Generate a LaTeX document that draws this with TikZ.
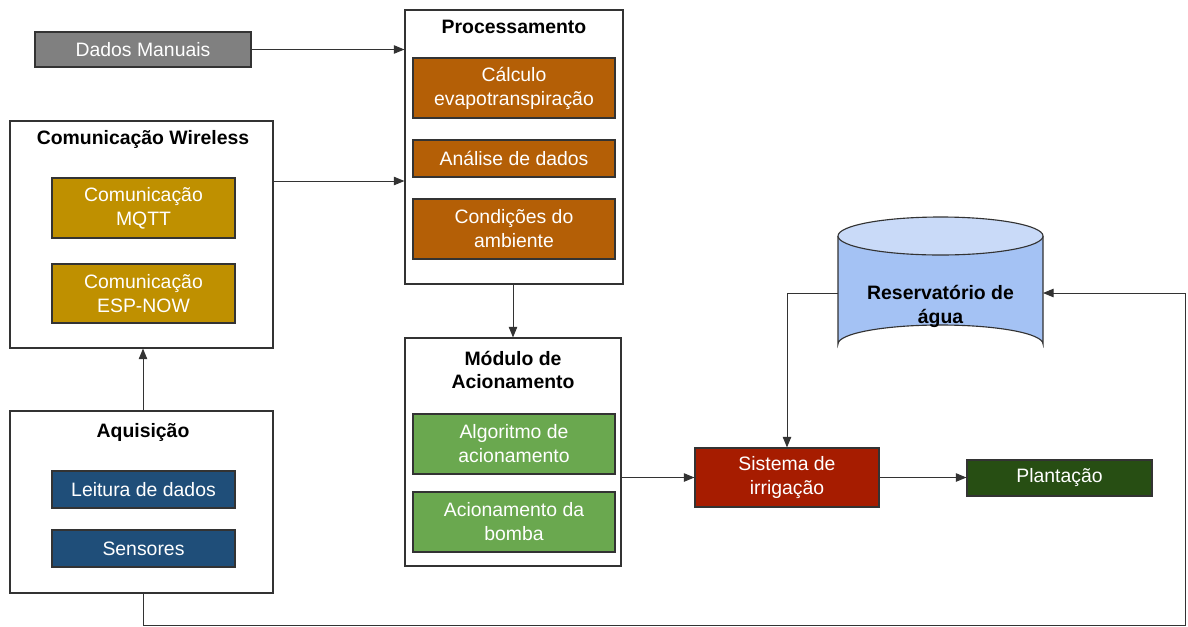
\documentclass[tikz,border=0pt]{standalone}
\usepackage{fontspec}
\setmainfont{Liberation Sans}
\usetikzlibrary{arrows.meta}
\definecolor{cinza}{HTML}{808080}
\definecolor{laranja}{HTML}{B45F06}
\definecolor{ouro}{HTML}{BF9000}
\definecolor{azul}{HTML}{1F4E79}
\definecolor{verde}{HTML}{6AA84F}
\definecolor{vermelho}{HTML}{A61C00}
\definecolor{verdeesc}{HTML}{274E13}
\definecolor{agua}{HTML}{A4C2F4}
\definecolor{aguatopo}{HTML}{C9DAF8}
\definecolor{linha}{HTML}{333333}
\begin{document}
\begin{tikzpicture}[>={Triangle[length=7.5pt,width=6pt]}, x=0.025cm, y=-0.025cm,
  font=\fontsize{13.8}{17}\selectfont,
  bloco/.style={draw=linha, line width=0.8pt, text=white, align=center, inner sep=0pt},
  grupo/.style={draw=linha, line width=0.8pt, fill=white, inner sep=0pt},
  titulo/.style={font=\fontsize{13.8}{17}\selectfont\bfseries, align=center, text=black},
  seta/.style={draw=linha, line width=0.7pt, ->}]
\useasboundingbox (0,0) rectangle (1188,626);

% grupos
\node[grupo, minimum width=5.45cm, minimum height=6.85cm] (proc) at (514,147) {};
\node[grupo, minimum width=6.575cm, minimum height=5.675cm] (wire) at (141.5,234.5) {};
\node[grupo, minimum width=6.575cm, minimum height=4.55cm] (aqui) at (141.5,502) {};
\node[grupo, minimum width=5.4cm, minimum height=5.7cm] (modu) at (513,452) {};

\node[titulo] (tproc) at (514,27) {Processamento};
\node[titulo] (twire) at (143,139) {Comunicação Wireless};
\node[titulo] (taqui) at (143,432) {Aquisição};
\node[titulo] (tmodu) at (513,370) {Módulo de\\Acionamento};

% blocos
\node[bloco, fill=cinza, minimum width=5.4cm, minimum height=0.875cm] (dados) at (143,49.5) {Dados Manuais};

\node[bloco, fill=laranja, minimum width=5.05cm, minimum height=1.5cm] (calc) at (514,88) {Cálculo\\evapotranspiração};
\node[bloco, fill=laranja, minimum width=5.05cm, minimum height=0.925cm] (anal) at (514,158.5) {Análise de dados};
\node[bloco, fill=laranja, minimum width=5.05cm, minimum height=1.5cm] (cond) at (514,229) {Condições do\\ambiente};

\node[bloco, fill=ouro, minimum width=4.575cm, minimum height=1.5cm] (mqtt) at (143.5,208) {Comunicação\\MQTT};
\node[bloco, fill=ouro, minimum width=4.575cm, minimum height=1.475cm] (esp) at (143.5,293.5) {Comunicação\\ESP-NOW};

\node[bloco, fill=azul, minimum width=4.575cm, minimum height=0.925cm] (leit) at (143.5,489.5) {Leitura de dados};
\node[bloco, fill=azul, minimum width=4.575cm, minimum height=0.925cm] (sens) at (143.5,548.5) {Sensores};

\node[bloco, fill=verde, minimum width=5.05cm, minimum height=1.5cm] (algo) at (514,444) {Algoritmo de\\acionamento};
\node[bloco, fill=verde, minimum width=5.05cm, minimum height=1.5cm] (bomb) at (514,522) {Acionamento da\\bomba};

\node[bloco, fill=vermelho, minimum width=4.6cm, minimum height=1.475cm] (irri) at (787,477.5) {Sistema de\\irrigação};
\node[bloco, fill=verdeesc, minimum width=4.625cm, minimum height=0.9cm] (plan) at (1059.5,478) {Plantação};

% reservatorio
\fill[agua] (838,236) -- (838,344) arc[start angle=180, end angle=360, x radius=102.5, y radius=19] -- (1043,236) -- cycle;
\draw[linha, line width=0.8pt] (838,236) -- (838,344) arc[start angle=180, end angle=360, x radius=102.5, y radius=19] -- (1043,236);
\draw[linha, line width=0.8pt, fill=aguatopo] (940.5,236) ellipse[x radius=102.5, y radius=19];
\node[titulo, minimum width=5.125cm, minimum height=2.7cm] (rese) at (940.5,306) {Reservatório de\\água};

% conexoes
\coordinate (rin) at (1043,293);
\coordinate (rout) at (838,293);
\coordinate (canto) at (1185,625);
\draw[seta] (dados.east) -- (dados.east -| proc.west);
\draw[seta] (wire.east |- 0,181) -- (proc.west |- 0,181);
\draw[seta] (aqui.north -| 143,0) -- (wire.south -| 143,0);
\draw[seta] (proc.south -| 513,0) -- (modu.north -| 513,0);
\draw[seta] (modu.east |- irri.west) -- (irri.west);
\draw[seta] (irri.east) -- (plan.west |- irri.east);
\draw[seta] (rout) -| (irri.north);
\draw[seta] (aqui.south -| 143,0) |- (canto) |- (rin);
\end{tikzpicture}
\end{document}
